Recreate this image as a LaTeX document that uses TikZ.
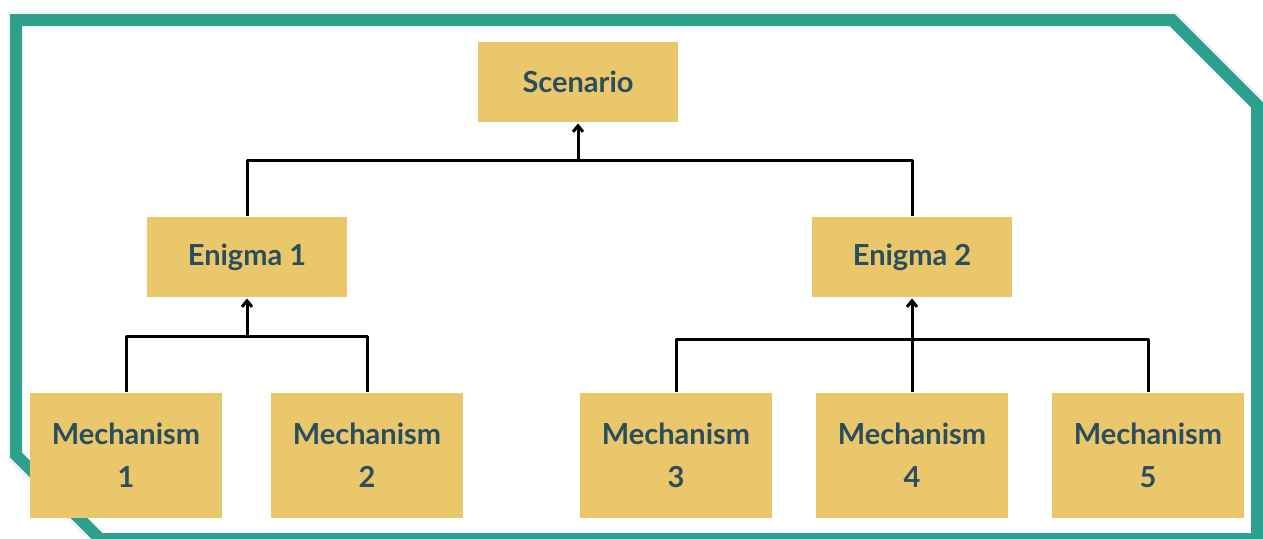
\documentclass[tikz,border=0pt]{standalone}
\usepackage{fontspec}
\setmainfont{Lato}
\usetikzlibrary{arrows.meta}

\definecolor{frameteal}{HTML}{2EA08E}
\definecolor{boxyellow}{HTML}{EBC76B}
\definecolor{inkblue}{HTML}{2A4E5E}

\begin{document}
\begin{tikzpicture}[x=1pt,y=-1pt,line width=3pt,>={Straight Barb[length=6pt,width=10pt]}]
    \tikzstyle{block}=[fill=boxyellow,text=inkblue,inner sep=0pt,font=\fontsize{29}{43}\selectfont\bfseries,align=center]
    \tikzstyle{level}=[block,minimum width=200pt,minimum height=80pt]
    \tikzstyle{leaf}=[block,minimum width=192pt,minimum height=125pt]
    \tikzstyle{link}=[draw=black,line join=round]

    \useasboundingbox (0,0) rectangle (1263,538);

    % Frame with cut corners
    \draw[black,opacity=0.05,line width=18pt,line join=miter]
        (17,21) -- (1173,21) -- (1258,106) -- (1258,540) -- (101,540) -- (17,456) -- cycle;
    \draw[frameteal,fill=white,line width=12pt,line join=miter]
        (16,20) -- (1172,20) -- (1257,105) -- (1257,539) -- (100,539) -- (16,455) -- cycle;

    % Levels of the tree
    \node[level] (S) at (578,82) {Scenario};
    \node[level] (E-1) at (247,257) {Enigma 1};
    \node[level] (E-2) at (912,257) {Enigma 2};

    \node[leaf] (M-1) at (126,455.5) {Mechanism\\1};
    \node[leaf] (M-2) at (367,455.5) {Mechanism\\2};
    \node[leaf] (M-3) at (676,455.5) {Mechanism\\3};
    \node[leaf] (M-4) at (912,455.5) {Mechanism\\4};
    \node[leaf] (M-5) at (1148,455.5) {Mechanism\\5};

    % Junctions
    \coordinate (J-S) at (578,160);
    \coordinate (J-1) at (247,336);
    \coordinate (J-2) at (912,339);

    \draw[link] (E-1.north) |- (J-S) -| (E-2.north);
    \draw[link,->] (J-S) -- (S.south);
    \draw[link] (M-1.north) |- (J-1) -| (M-2.north);
    \draw[link,->] (J-1) -- (E-1.south);
    \draw[link] (M-3.north) |- (J-2) -| (M-5.north);
    \draw[link,->] (M-4.north) -- (E-2.south);
\end{tikzpicture}
\end{document}
